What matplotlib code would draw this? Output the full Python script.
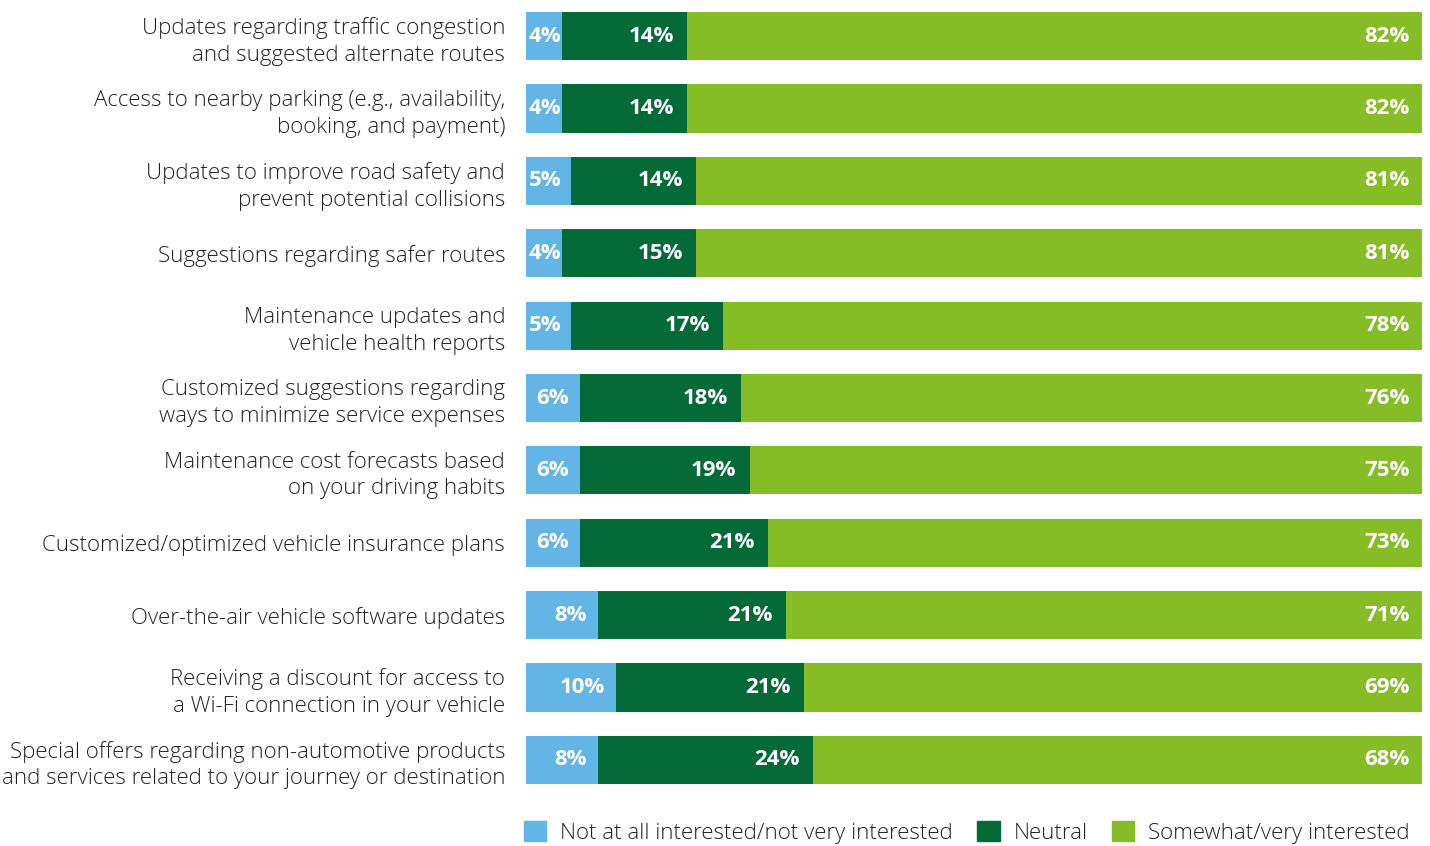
import matplotlib.pyplot as plt
from matplotlib.patches import Patch
import numpy as np

plt.rcParams['font.family'] = ['Open Sans', 'DejaVu Sans']

features = [
    "Updates regarding traffic congestion\nand suggested alternate routes",
    "Access to nearby parking (e.g., availability,\nbooking, and payment)",
    "Updates to improve road safety and\nprevent potential collisions",
    "Suggestions regarding safer routes",
    "Maintenance updates and\nvehicle health reports",
    "Customized suggestions regarding\nways to minimize service expenses",
    "Maintenance cost forecasts based\non your driving habits",
    "Customized/optimized vehicle insurance plans",
    "Over-the-air vehicle software updates",
    "Receiving a discount for access to\na Wi-Fi connection in your vehicle",
    "Special offers regarding non-automotive products\nand services related to your journey or destination",
]
not_interested = [4, 4, 5, 4, 5, 6, 6, 6, 8, 10, 8]
neutral = [14, 14, 14, 15, 17, 18, 19, 21, 21, 21, 24]
interested = [82, 82, 81, 81, 78, 76, 75, 73, 71, 69, 68]
series_names = ["Not at all interested/not very interested", "Neutral",
                "Somewhat/very interested"]

c_blue = '#62B5E5'
c_dark = '#046A38'
c_light = '#86BC25'
txt = '#222222'
fs = 16

fig = plt.figure(figsize=(14.3, 8.46), dpi=100)
ax = fig.add_axes([526/1430, 50/846, 896/1430, 796/846])

y = np.arange(len(features))
h = 0.665
nb = np.array(not_interested)
ne = np.array(neutral)
it = np.array(interested)
ax.barh(y, nb, height=h, color=c_blue)
ax.barh(y, ne, left=nb, height=h, color=c_dark)
ax.barh(y, it, left=nb + ne, height=h, color=c_light)

lab = dict(color='white', fontsize=fs, fontweight='bold', va='center')
for i in range(len(features)):
    # light blue: sits at the left when the segment is narrow
    if nb[i] <= 5:
        ax.text(0.3, y[i], f"{nb[i]}%", ha='left', **lab)
    else:
        ax.text(nb[i] - 1.2, y[i], f"{nb[i]}%", ha='right', **lab)
    ax.text(nb[i] + ne[i] - 1.5, y[i], f"{ne[i]}%", ha='right', **lab)
    ax.text(98.6, y[i], f"{it[i]}%", ha='right', **lab)

ax.set_xlim(0, 100)
ax.set_ylim(len(features) - 0.5, -0.5)
ax.set_yticks(y)
ax.set_yticklabels(features, fontsize=fs, color=txt, fontweight='light',
                   linespacing=1.35)
ax.tick_params(axis='y', length=0, pad=15)
ax.set_xticks([])
for s in ax.spines.values():
    s.set_visible(False)

handles = [Patch(color=c) for c in (c_blue, c_dark, c_light)]
fig.legend(handles, series_names, loc='lower right', ncol=3,
           bbox_to_anchor=(1.0, -0.021), frameon=False,
           handlelength=1.0, handleheight=1.0, handletextpad=0.63,
           columnspacing=1.1, labelcolor=txt,
           prop={'weight': 'light', 'size': fs})

fig.savefig('out.png', dpi=100)
